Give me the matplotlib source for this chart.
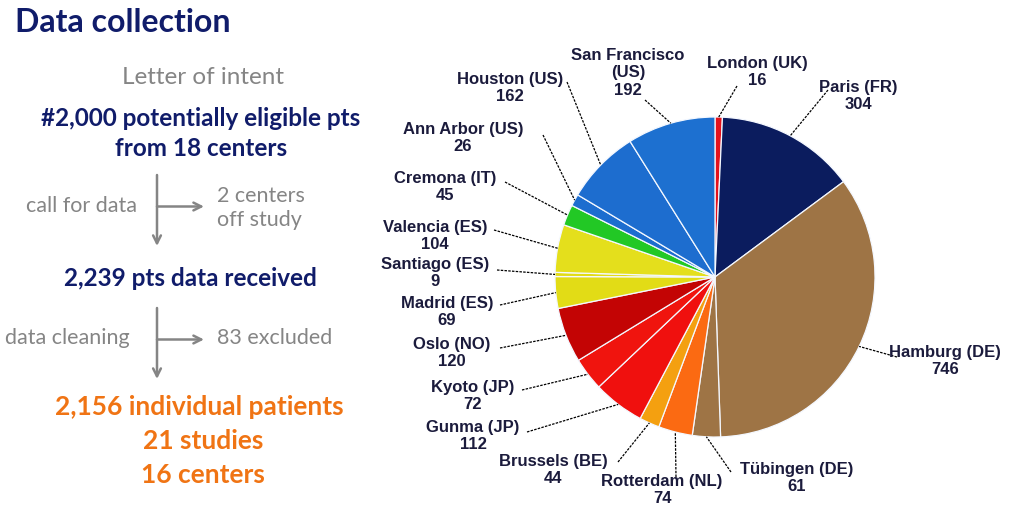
import matplotlib.pyplot as plt
import numpy as np

# patients per centre, clockwise from 12 o'clock
centers = ['London (UK)', 'Paris (FR)', 'Hamburg (DE)', 'Tübingen (DE)', 'Rotterdam (NL)',
           'Brussels (BE)', 'Gunma (JP)', 'Kyoto (JP)', 'Oslo (NO)', 'Madrid (ES)',
           'Santiago (ES)', 'Valencia (ES)', 'Cremona (IT)', 'Ann Arbor (US)',
           'Houston (US)', 'San Francisco\n(US)']
patients = [16, 304, 746, 61, 74, 44, 112, 72, 120, 69, 9, 104, 45, 26, 162, 192]
colors = ['#e5121c', '#0b1c5e', '#9e7445', '#9e7445', '#fb6a12', '#f4a010', '#f0100e',
          '#f0140e', '#c30404', '#e2dc16', '#e2dc16', '#e4df1c', '#22c825', '#1d6dcf',
          '#1d6dcf', '#1d70d0']

# label placement in image pixels: (text x, text y, ha, line start x, line start y)
label_pos = [
    (757, 72, 'center', 737, 86),
    (858, 96, 'center', 828, 90),
    (945, 361, 'center', 897, 357),
    (740, 478, 'left', 731, 472),
    (662, 490, 'center', 676, 477),
    (553, 470, 'center', 618, 462),
    (473, 436, 'center', 527, 432),
    (473, 396, 'center', 522, 390),
    (452, 353, 'center', 500, 348),
    (447, 312, 'center', 500, 305),
    (435, 273, 'center', 497, 270),
    (435, 236, 'center', 494, 230),
    (445, 187, 'center', 505, 182),
    (463, 138, 'center', 543, 135),
    (510, 88, 'center', 567, 82),
    (628, 73, 'center', 645, 100),
]

H = 518
cx, cy, r = 715, 277, 160

fig = plt.figure(figsize=(10.24, 5.18), dpi=100)
ax = fig.add_axes([0, 0, 1, 1])

wedges, _ = ax.pie(patients, colors=colors, startangle=90, counterclock=False,
                   center=(cx, H - cy), radius=r,
                   wedgeprops=dict(edgecolor='#f4f8ff', linewidth=0.9))

label_color = '#1b1b3c'
for w, name, n, (tx, ty, ha, lx, ly) in zip(wedges, centers, patients, label_pos):
    mid = np.deg2rad((w.theta1 + w.theta2) / 2)
    px = cx + r * np.cos(mid)
    py = (H - cy) + r * np.sin(mid)
    ax.plot([lx, px], [H - ly, py], color='black', lw=0.9, ls=(0, (2, 1)))
    ax.text(tx, H - ty, f"{name}\n{n}", ha=ha, va='center', fontsize=12,
            fontweight='bold', color=label_color, family='Liberation Sans',
            linespacing=1.2, multialignment='center')

# flow diagram on the left
navy = '#101c6a'
grey = '#858585'
orange = '#f07414'
font = 'Lato'

ax.text(15, H - 22, 'Data collection', fontsize=23, fontweight='bold', color=navy,
        family=font, va='center', ha='left')
ax.text(203, H - 78, 'Letter of intent', fontsize=17.5, color=grey, family=font,
        ha='center', va='center')
ax.text(201, H - 118, '#2,000 potentially eligible pts', fontsize=17.5, fontweight='bold',
        color=navy, family=font, ha='center', va='center')
ax.text(201, H - 149, 'from 18 centers', fontsize=17.5, fontweight='bold',
        color=navy, family=font, ha='center', va='center')

ax.text(137, H - 206, 'call for data', fontsize=15.5, color=grey, family=font,
        ha='right', va='center')
ax.text(217, H - 208, '2 centers\noff study', fontsize=15.5, color=grey, family=font,
        ha='left', va='center', linespacing=1.25)
ax.text(190, H - 278, '2,239 pts data received', fontsize=17.5, fontweight='bold',
        color=navy, family=font, ha='center', va='center')
ax.text(130, H - 338, 'data cleaning', fontsize=15.5, color=grey, family=font,
        ha='right', va='center')
ax.text(217, H - 338, '83 excluded', fontsize=15.5, color=grey, family=font,
        ha='left', va='center')

ax.text(199, H - 407, '2,156 individual patients', fontsize=19, fontweight='bold',
        color=orange, family=font, ha='center', va='center')
ax.text(203, H - 441, '21 studies', fontsize=19, fontweight='bold',
        color=orange, family=font, ha='center', va='center')
ax.text(203, H - 475, '16 centers', fontsize=19, fontweight='bold',
        color=orange, family=font, ha='center', va='center')

arrow = dict(arrowstyle='->', color=grey, lw=1.8, shrinkA=0, shrinkB=0,
             mutation_scale=14)
for y0, y1 in [(175, 246), (308, 379)]:
    ax.annotate('', xy=(157, H - y1), xytext=(157, H - y0), arrowprops=arrow)
    ym = (y0 + y1) / 2 - 4
    ax.annotate('', xy=(204, H - ym), xytext=(157, H - ym), arrowprops=arrow)

ax.set_xlim(0, 1024)
ax.set_ylim(0, H)
ax.axis('off')

fig.savefig('out.png', dpi=100, facecolor='white')
